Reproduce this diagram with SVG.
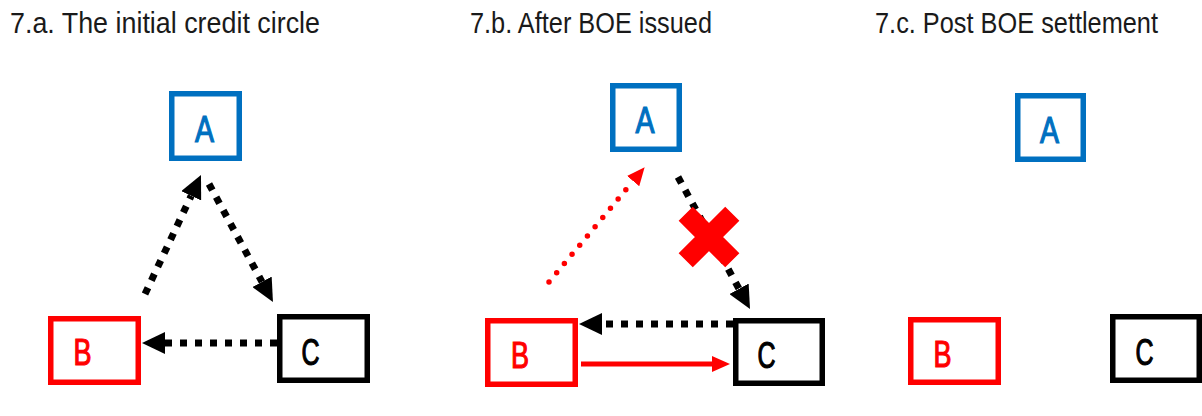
<svg xmlns="http://www.w3.org/2000/svg" width="1202" height="416" viewBox="0 0 1202 416">
<style>
.title{font-family:"Liberation Sans",Arial,sans-serif;font-size:29px;fill:#1a1a1a}
.lbl{font-family:"Liberation Sans",Arial,sans-serif;font-size:36px;text-anchor:middle;stroke-width:1.2}
.box{fill:#fff;stroke-width:5.5}
.bA{stroke:#0070C0}.bB{stroke:#FF0000}.bC{stroke:#000}
.tA{fill:#0070C0;stroke:#0070C0}.tB{fill:#FF0000;stroke:#FF0000}.tC{fill:#000;stroke:#000}
.dash{fill:none;stroke:#000;stroke-width:7;stroke-dasharray:7 8;marker-end:url(#hb)}
.dots{fill:none;stroke:#FF0000;stroke-width:5.5;stroke-linecap:round;stroke-dasharray:0 12;marker-end:url(#hr)}
.solid{fill:none;stroke:#FF0000;stroke-width:5;marker-end:url(#hr)}
.x{stroke:#FF0000;stroke-width:20;fill:none}
</style>
<defs>
<marker id="hb" markerUnits="userSpaceOnUse" viewBox="0 0 23 22" refX="0" refY="11" markerWidth="23" markerHeight="22" orient="auto"><path d="M0,0 L23,11 L0,22 Z" fill="#000"/></marker>
<marker id="hr" markerUnits="userSpaceOnUse" viewBox="0 0 18 16" refX="0" refY="8" markerWidth="18" markerHeight="16" orient="auto"><path d="M0,0 L18,8 L0,16 Z" fill="#FF0000"/></marker>
</defs>
<rect width="1202" height="416" fill="#fff"/>
<g id="titles">
<text class="title" x="10" y="33" textLength="310" lengthAdjust="spacingAndGlyphs">7.a. The initial credit circle</text>
<text class="title" x="470" y="33" textLength="242" lengthAdjust="spacingAndGlyphs">7.b. After BOE issued</text>
<text class="title" x="875" y="33" textLength="283" lengthAdjust="spacingAndGlyphs">7.c. Post BOE settlement</text>
</g>
<g id="connectors">
<path class="dash" d="M145,294 L191.2,195.8"/>
<path class="dash" d="M209,184 L262,281.8"/>
<path class="dash" d="M277,343 L165,343"/>
<path class="dots" d="M549,282 L633.1,181.1"/>
<path class="dash" d="M678,177 L739,288.8"/>
<path class="dash" d="M733,324 L602,324"/>
<path class="solid" d="M581,364 L712,364"/>
</g>
<g id="cross">
<path class="x" d="M685.7,213.7 L732.3,260.3 M732.3,213.7 L685.7,260.3"/>
</g>
<g id="a-A"><rect class="box bA" x="171.75" y="93.75" width="67.5" height="64.5"/><text class="lbl tA" x="204.5" y="142" textLength="19" lengthAdjust="spacingAndGlyphs">A</text></g>
<g id="a-B"><rect class="box bB" x="50.75" y="318.75" width="87.5" height="63.5"/><text class="lbl tB" x="82.5" y="365" textLength="18" lengthAdjust="spacingAndGlyphs">B</text></g>
<g id="a-C"><rect class="box bC" x="279.75" y="316.75" width="87.5" height="63.5"/><text class="lbl tC" x="310.5" y="365" textLength="18" lengthAdjust="spacingAndGlyphs">C</text></g>
<g id="b-A"><rect class="box bA" x="612.75" y="85.75" width="66.5" height="63.5"/><text class="lbl tA" x="645" y="133" textLength="19" lengthAdjust="spacingAndGlyphs">A</text></g>
<g id="b-B"><rect class="box bB" x="487.75" y="320.75" width="87.5" height="63.5"/><text class="lbl tB" x="520" y="368" textLength="18" lengthAdjust="spacingAndGlyphs">B</text></g>
<g id="b-C"><rect class="box bC" x="735.75" y="320.75" width="86.5" height="62.5"/><text class="lbl tC" x="766.5" y="368" textLength="18" lengthAdjust="spacingAndGlyphs">C</text></g>
<g id="c-A"><rect class="box bA" x="1017.75" y="95.75" width="65.5" height="63.5"/><text class="lbl tA" x="1049.5" y="143" textLength="19" lengthAdjust="spacingAndGlyphs">A</text></g>
<g id="c-B"><rect class="box bB" x="910.75" y="319.75" width="87.5" height="62.5"/><text class="lbl tB" x="942.5" y="367" textLength="18" lengthAdjust="spacingAndGlyphs">B</text></g>
<g id="c-C"><rect class="box bC" x="1112.75" y="316.75" width="86.5" height="63.5"/><text class="lbl tC" x="1144.5" y="365" textLength="18" lengthAdjust="spacingAndGlyphs">C</text></g>
</svg>
